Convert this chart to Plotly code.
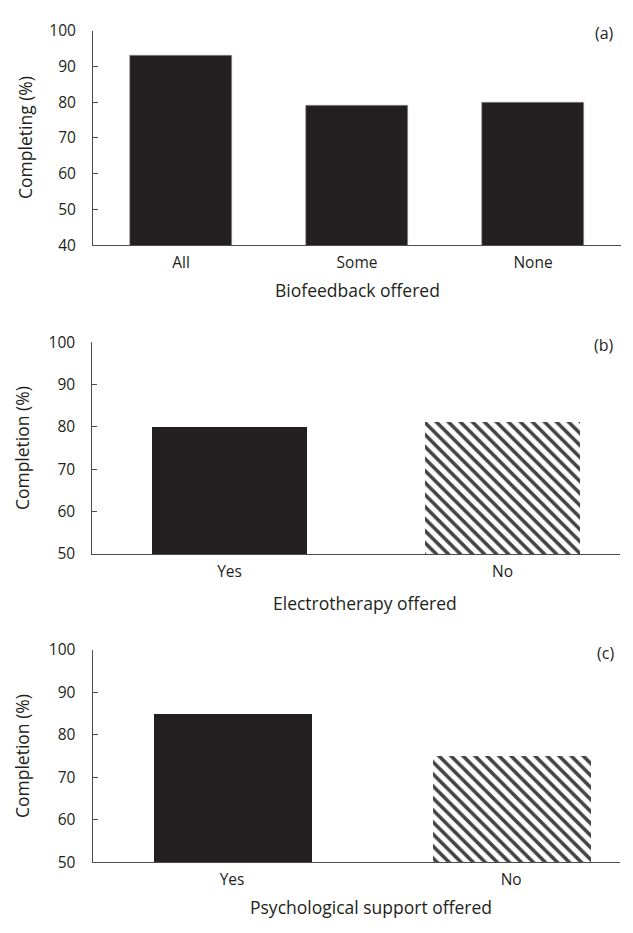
import plotly.graph_objects as go

# Completion rates by programme feature
biofeedback_levels = ["All", "Some", "None"]
biofeedback_completing = [93, 79, 80]

electrotherapy_levels = ["Yes", "No"]
electrotherapy_completion = [80, 81]

psych_support_levels = ["Yes", "No"]
psych_support_completion = [85, 75]

W, H = 633, 933
INK = "#231f20"
AXIS = "#4d4d4d"
FONT = "Open Sans"
TICK_SIZE = 15.5
TITLE_SIZE = 17.5


def px_x(p):
    return p / W


def px_y(p):
    return 1 - p / H


def two_bar_marker():
    # first bar solid, second bar hatched with diagonal lines
    return dict(color=[INK, "white"], line=dict(width=0),
                pattern=dict(shape=["", "\\"], fgcolor=INK, fgopacity=1,
                             bgcolor="white", size=8.5, solidity=0.42))


fig = go.Figure()

fig.add_trace(go.Bar(x=biofeedback_levels, y=biofeedback_completing,
                     width=0.58, marker=dict(color=INK, line=dict(width=0.6, color="#9a9a9a")),
                     xaxis="x", yaxis="y"))
fig.add_trace(go.Bar(x=electrotherapy_levels, y=electrotherapy_completion,
                     width=0.568, marker=two_bar_marker(), xaxis="x2", yaxis="y2"))
fig.add_trace(go.Bar(x=psych_support_levels, y=psych_support_completion,
                     width=0.566, marker=two_bar_marker(), xaxis="x3", yaxis="y3"))

panels = [
    dict(xd=(93, 621), yd=(19, 239), xr=[-0.5, 2.5], yr=[40, 100],
         ytitle="Completing (%)", ytx=25, xtitle="Biofeedback offered", xtx=357, xty=285,
         tag="(a)", tagy=22),
    dict(xd=(92.3, 620), yd=(338.3, 555), xr=[-0.5026, 1.43], yr=[50, 100],
         ytitle="Completion (%)", ytx=22, xtitle="Electrotherapy offered", xtx=365, xty=605,
         tag="(b)", tagy=341),
    dict(xd=(92.5, 620), yd=(653.3, 870.7), xr=[-0.5, 1.39], yr=[50, 100],
         ytitle="Completion (%)", ytx=22, xtitle="Psychological support offered", xtx=371, xty=917,
         tag="(c)", tagy=656),
]

annotations = []
for i, p in enumerate(panels, start=1):
    sfx = "" if i == 1 else str(i)
    fig.update_layout(**{
        f"xaxis{sfx}": dict(
            domain=[px_x(p["xd"][0]), px_x(p["xd"][1])],
            anchor=f"y{sfx}", type="category", range=p["xr"],
            showline=True, linecolor=AXIS, linewidth=1, ticks="",
            showgrid=False, zeroline=False, fixedrange=True,
            tickfont=dict(family=FONT, size=TICK_SIZE, color=INK),
            ticklabelstandoff=3,
        ),
        f"yaxis{sfx}": dict(
            domain=[px_y(p["yd"][1]), px_y(p["yd"][0])],
            anchor=f"x{sfx}", range=p["yr"], dtick=10,
            showline=True, linecolor=AXIS, linewidth=1,
            ticks="inside", ticklen=5, tickcolor=AXIS, tickwidth=1,
            showgrid=False, zeroline=False, fixedrange=True,
            tickfont=dict(family=FONT, size=TICK_SIZE, color=INK),
            ticklabelstandoff=13,
        ),
    })
    ymid = (p["yd"][0] + p["yd"][1]) / 2
    annotations.append(dict(text=p["ytitle"], x=px_x(p["ytx"]), y=px_y(ymid),
                            xref="paper", yref="paper", showarrow=False,
                            textangle=-90, xanchor="center", yanchor="middle",
                            font=dict(family=FONT, size=TITLE_SIZE, color=INK)))
    annotations.append(dict(text=p["xtitle"], x=px_x(p["xtx"]), y=px_y(p["xty"]),
                            xref="paper", yref="paper", showarrow=False,
                            xanchor="center", yanchor="middle",
                            font=dict(family=FONT, size=TITLE_SIZE, color=INK)))
    annotations.append(dict(text=p["tag"], x=px_x(616), y=px_y(p["tagy"]),
                            xref="paper", yref="paper", showarrow=False,
                            xanchor="right", yanchor="middle",
                            font=dict(family=FONT, size=TICK_SIZE + 0.5, color=INK)))

fig.update_layout(
    width=W, height=H,
    margin=dict(l=0, r=0, t=0, b=0),
    paper_bgcolor="white", plot_bgcolor="white",
    showlegend=False, bargap=0,
    annotations=annotations,
)

fig.write_html("out.html", config={"displayModeBar": False})
